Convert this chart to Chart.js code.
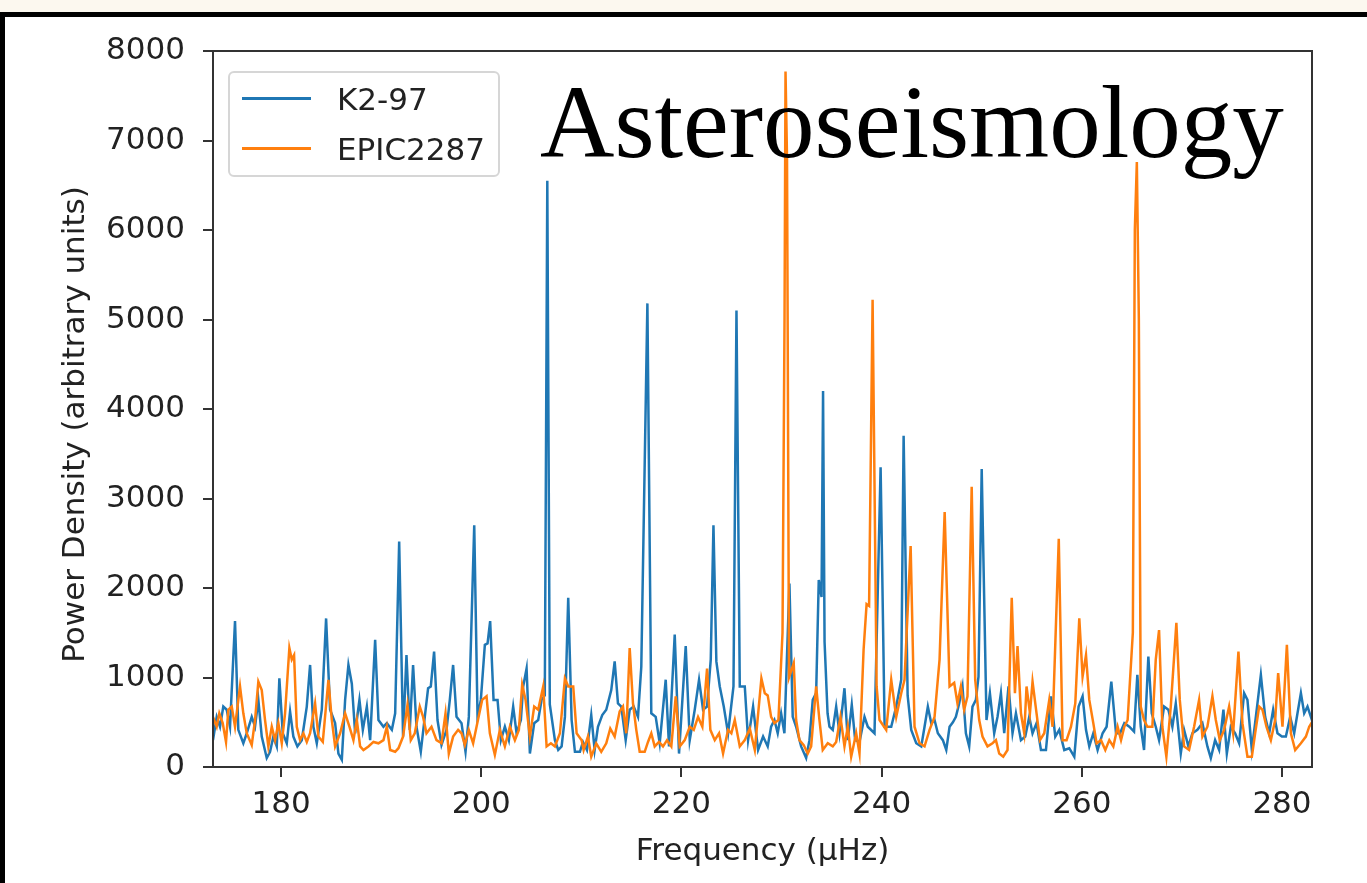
<!DOCTYPE html>
<html>
<head>
<meta charset="utf-8">
<script src="https://cdn.jsdelivr.net/npm/chart.js@4"></script>
<style>
  body { margin: 0; background: #fcf8ef; font-family: "DejaVu Sans", sans-serif; }
  #frame { position: absolute; left: 0; top: 12px; width: 1367px; height: 871px; background: #fff;
           border-top: 5px solid #000; border-left: 5px solid #000; box-sizing: border-box; }
  #myChart { position: absolute; left: 0; top: 0; }
  #legend { position: absolute; left: 228px; top: 71px; width: 272px; height: 106px; box-sizing: border-box;
            border: 2px solid #d6d6d6; border-radius: 6px; background: rgba(255,255,255,0.8); }
  .item { position: absolute; left: 0; height: 36px; font-size: 31px; color: #222; line-height: 36px; }
  .item span.line { position: absolute; left: 12px; top: 16px; width: 69px; height: 3px; }
  .item span.txt { position: absolute; left: 107px; top: 0; white-space: nowrap; }
  #stamp { position: absolute; left: 540px; top: 71px; font-family: "Liberation Serif", serif;
           font-size: 103px; line-height: 103px; color: #000; white-space: nowrap; }
</style>
</head>
<body>
<div id="frame"></div>
<canvas id="myChart" width="1367" height="883"></canvas>
<div id="legend"></div>
<div id="stamp">Asteroseismology</div>
<script>
//Spectra: [frequency (uHz), power density]
const k2Spectrum = [
  [173.2,300],[173.57,560],[173.9,450],[174.23,675],[174.57,640],[174.9,450],[175.4,1630],[175.73,415],
  [176.23,265],[176.57,377],[177.07,560],[177.4,450],[177.73,750],[178.07,340],[178.57,100],[178.9,170],
  [179.23,340],[179.57,230],[179.83,990],[180.17,377],[180.57,265],[180.9,620],[181.23,340],[181.63,230],
  [182.07,300],[182.57,675],[182.9,1140],[183.23,450],[183.57,265],[184.07,640],[184.5,1660],[184.9,640],
  [185.4,490],[185.73,150],[186.07,80],[186.4,750],[186.73,1140],[187.07,930],[187.4,377],[187.83,750],
  [188.17,415],[188.57,675],[188.9,300],[189.4,1420],[189.73,525],[190.23,450],[190.57,490],[191.07,415],
  [191.4,600],[191.8,2520],[192.19,340],[192.53,1250],[192.86,415],[193.19,1140],[193.53,450],[193.96,170],
  [194.36,560],[194.69,880],[194.96,900],[195.29,1290],[195.63,525],[196.03,245],[196.53,415],[196.86,750],
  [197.19,1140],[197.53,560],[198.03,490],[198.43,170],[198.76,560],[199.3,2700],[199.63,560],[199.96,750],
  [200.36,1365],[200.63,1380],[200.89,1630],[201.23,750],[201.63,750],[201.96,300],[202.36,450],[202.76,300],
  [203.19,675],[203.53,377],[203.96,525],[204.19,900],[204.53,1100],[204.86,150],[205.29,490],[205.69,525],
  [206.03,750],[206.35,800],[206.6,6550],[206.85,700],[207.36,300],[207.69,190],[208.03,230],[208.36,560],
  [208.69,1890],[209.03,525],[209.36,170],[209.86,170],[210.16,280],[210.56,190],[210.99,580],[211.33,190],
  [211.66,450],[212.09,580],[212.49,640],[212.99,860],[213.33,1180],[213.66,710],[213.99,675],[214.43,300],
  [214.83,640],[215.23,675],[215.66,560],[215.99,1120],[216.6,5180],[216.99,600],[217.43,560],[217.83,265],
  [218.43,975],[218.76,230],[219.33,1480],[219.76,150],[220.43,1350],[220.83,300],[221.33,640],[221.76,975],
  [222.16,640],[222.56,675],[222.93,1200],[223.2,2700],[223.49,1180],[223.83,900],[224.23,675],[224.66,377],
  [225.2,900],[225.5,5100],[225.83,900],[226.33,900],[226.66,300],[227.16,675],[227.66,190],[228.16,340],
  [228.62,230],[228.96,450],[229.29,525],[229.62,377],[229.96,600],[230.29,377],[230.79,2050],[231.12,560],
  [231.46,450],[231.96,230],[232.46,100],[232.79,300],[233.12,750],[233.46,825],[233.72,2090],[234.0,1900],
  [234.15,4200],[234.3,1400],[234.6,600],[234.79,450],[235.12,415],[235.46,675],[235.79,377],[236.29,880],
  [236.62,300],[237.02,695],[237.36,300],[237.79,280],[238.29,560],[238.62,450],[239.29,377],[239.9,3350],
  [240.3,450],[240.96,450],[241.46,675],[241.96,975],[242.2,3700],[242.6,800],[242.96,415],[243.46,265],
  [243.96,230],[244.29,450],[244.62,675],[244.96,490],[245.29,525],[245.62,377],[246.12,300],[246.46,190],
  [246.79,450],[247.12,500],[247.42,560],[247.75,710],[248.08,900],[248.42,377],[248.75,230],[249.08,675],
  [249.42,750],[249.68,1010],[250.0,3330],[250.48,525],[250.82,825],[251.25,377],[251.58,560],[251.92,825],
  [252.25,377],[252.68,900],[253.08,377],[253.42,600],[253.92,300],[254.35,340],[254.75,560],[255.08,377],
  [255.48,490],[255.92,190],[256.42,190],[256.92,790],[257.35,340],[257.75,415],[258.25,190],[258.75,210],
  [259.25,115],[259.68,675],[260.08,790],[260.42,415],[260.75,230],[261.15,377],[261.58,190],[262.08,377],
  [262.48,450],[262.95,955],[263.42,377],[263.82,377],[264.25,490],[264.75,450],[265.22,395],[265.55,1030],
  [265.89,450],[266.22,190],[266.65,1235],[266.99,600],[267.39,450],[267.72,300],[268.22,675],[268.65,640],
  [269.05,450],[269.39,710],[269.89,150],[270.22,415],[270.65,230],[271.05,377],[271.55,415],[272.05,490],
  [272.55,230],[272.89,100],[273.32,300],[273.72,190],[274.15,640],[274.49,150],[274.89,450],[275.32,377],
  [275.72,265],[276.22,825],[276.55,750],[276.99,190],[277.39,560],[277.89,1030],[278.32,560],[278.72,377],
  [279.12,640],[279.55,377],[279.99,340],[280.39,340],[280.82,560],[281.22,377],[281.55,600],[281.89,825],
  [282.22,600],[282.55,675],[282.89,560],[283.0,600]
];
const epicSpectrum = [
  [173.2,560],[173.57,450],[173.83,600],[174.17,490],[174.5,280],[174.73,640],[175.07,675],[175.4,450],
  [175.9,900],[176.23,600],[176.57,377],[177.07,245],[177.4,525],[177.73,955],[178.07,860],[178.4,525],
  [178.73,230],[179.07,450],[179.4,300],[179.73,490],[180.07,265],[180.4,600],[180.83,1330],[181.07,1200],
  [181.3,1250],[181.57,450],[181.9,300],[182.23,377],[182.57,280],[182.9,377],[183.4,710],[183.73,340],
  [184.17,280],[184.73,975],[185.07,525],[185.4,230],[185.9,377],[186.4,600],[186.83,450],[187.23,300],
  [187.57,525],[187.9,230],[188.23,190],[188.73,230],[189.23,280],[189.73,265],[190.23,300],[190.57,450],
  [190.9,190],[191.4,170],[191.73,210],[192.19,340],[192.63,695],[192.96,300],[193.36,377],[193.86,675],
  [194.19,560],[194.53,377],[195.03,450],[195.53,300],[196.03,265],[196.43,600],[196.76,150],[197.19,340],
  [197.69,415],[198.03,377],[198.36,245],[198.76,415],[199.19,265],[199.53,450],[200.09,750],[200.53,790],
  [200.86,377],[201.36,135],[201.86,415],[202.36,230],[202.86,450],[203.36,300],[203.76,415],[204.09,920],
  [204.43,750],[204.86,340],[205.29,675],[205.69,640],[206.19,900],[206.53,230],[206.96,265],[207.36,230],
  [207.86,377],[208.36,990],[208.69,900],[209.19,900],[209.53,377],[210.03,300],[210.23,190],[210.66,340],
  [210.99,115],[211.49,265],[211.99,170],[212.49,265],[212.89,430],[213.33,340],[213.83,620],[214.16,675],
  [214.49,377],[214.83,1330],[215.16,710],[215.49,415],[215.83,170],[216.33,170],[216.66,280],[216.99,377],
  [217.33,230],[217.76,280],[218.16,230],[218.56,300],[218.99,230],[219.43,790],[219.83,230],[220.33,300],
  [220.83,450],[221.23,415],[221.66,560],[222.09,450],[222.56,1100],[222.89,415],[223.33,300],[223.76,377],
  [224.16,150],[224.66,415],[224.99,377],[225.33,525],[225.83,230],[226.33,300],[226.83,430],[227.33,190],
  [227.99,990],[228.33,825],[228.62,800],[228.96,560],[229.29,490],[229.69,525],[230.1,1500],[230.3,5000],
  [230.4,7770],[230.55,6800],[230.75,1000],[231.22,1160],[231.46,525],[231.79,300],[232.22,245],[232.62,150],
  [232.96,230],[233.46,900],[233.79,525],[234.12,190],[234.62,265],[235.12,230],[235.46,280],[235.89,560],
  [236.29,230],[236.62,450],[236.96,115],[237.46,377],[237.79,150],[238.2,1310],[238.5,1820],[238.75,1800],
  [239.1,5220],[239.5,900],[239.79,525],[240.46,415],[240.96,975],[241.46,560],[241.96,825],[242.29,975],
  [242.9,2470],[243.29,450],[243.79,265],[244.29,230],[244.79,415],[245.29,560],[245.79,1200],[246.3,2850],
  [246.79,900],[247.25,940],[247.58,710],[247.92,900],[248.25,640],[248.58,790],[249.0,3130],[249.35,975],
  [249.75,525],[250.08,340],[250.58,230],[251.08,265],[251.42,300],[251.75,150],[252.15,115],[252.58,190],
  [253.0,1890],[253.32,825],[253.58,1350],[253.92,600],[254.25,377],[254.48,900],[254.82,600],[255.08,955],
  [255.48,600],[255.82,300],[256.25,377],[256.75,750],[257.08,450],[257.7,2550],[258.08,300],[258.48,300],
  [258.92,450],[259.35,710],[259.75,1660],[260.08,1010],[260.42,1250],[260.75,750],[261.15,490],[261.48,265],
  [261.92,300],[262.35,190],[262.75,300],[263.15,230],[263.58,450],[263.92,300],[264.25,450],[264.58,525],
  [265.1,1500],[265.3,6000],[265.5,6760],[265.7,5000],[265.89,675],[266.22,525],[266.55,450],[267.05,450],
  [267.39,1200],[267.72,1530],[268.05,450],[268.45,115],[268.89,675],[269.45,1610],[269.79,750],[270.22,230],
  [270.72,190],[271.22,450],[271.72,750],[272.05,340],[272.55,450],[273.05,790],[273.39,525],[273.79,300],
  [274.22,415],[274.72,675],[275.12,377],[275.65,1290],[276.05,490],[276.55,115],[276.99,115],[277.32,377],
  [277.72,675],[278.05,640],[278.45,450],[278.89,300],[279.32,525],[279.62,1050],[280.05,450],[280.49,1365],
  [280.89,377],[281.32,190],[281.89,265],[282.39,340],[282.72,450],[283.0,500]
];
const seriesNames = ["K2-97", "EPIC2287"];
const seriesColors = ["#1f77b4", "#ff7f0e"];
const xTicks = [180, 200, 220, 240, 260, 280];
const yTicks = [0, 1000, 2000, 3000, 4000, 5000, 6000, 7000, 8000];

const ctx = document.getElementById("myChart");
const tickFont = { family: "DejaVu Sans", size: 31 };

//Draw the box around the plot like matplotlib spines
const boxPlugin = {
  id: "box",
  afterDraw(chart) {
    const a = chart.chartArea;
    const c = chart.ctx;
    c.save();
    c.strokeStyle = "#333";
    c.lineWidth = 2;
    c.strokeRect(a.left, a.top, a.right - a.left, a.bottom - a.top);
    c.restore();
  }
};

const toXY = arr => arr.map(p => ({ x: p[0], y: p[1] }));

const myChart = new Chart(ctx, {
  type: "line",
  data: {
    datasets: [
      { label: seriesNames[0], data: toXY(k2Spectrum), borderColor: seriesColors[0], borderWidth: 2.5, order: 1 },
      { label: seriesNames[1], data: toXY(epicSpectrum), borderColor: seriesColors[1], borderWidth: 2.5, order: 0 }
    ]
  },
  options: {
    responsive: false,
    animation: false,
    devicePixelRatio: 1,
    layout: { padding: { left: 0, top: 51, right: 55, bottom: 0 } },
    elements: { point: { radius: 0 }, line: { tension: 0 } },
    plugins: { legend: { display: false }, tooltip: { enabled: false } },
    scales: {
      x: {
        type: "linear",
        min: 173.2,
        max: 283.0,
        afterBuildTicks: s => { s.ticks = xTicks.map(v => ({ value: v })); },
        afterFit: s => { s.height = 116; },
        border: { display: false },
        grid: { drawOnChartArea: false, drawTicks: true, tickLength: 10, color: "#333", lineWidth: 2 },
        ticks: { font: tickFont, color: "#222", padding: 9, maxRotation: 0, callback: v => String(v) },
        title: { display: true, text: "Frequency (μHz)", font: tickFont, color: "#222", padding: { top: 0, bottom: 12 } }
      },
      y: {
        min: 0,
        max: 8000,
        afterBuildTicks: s => { s.ticks = yTicks.map(v => ({ value: v })); },
        afterFit: s => { s.width = 213; },
        border: { display: false },
        grid: { drawOnChartArea: false, drawTicks: true, tickLength: 10, color: "#333", lineWidth: 2 },
        ticks: { font: tickFont, color: "#222", padding: 18, callback: v => String(v) },
        //trailing en spaces nudge the rotated title down to where the original sits
        title: { display: true, text: "Power Density (arbitrary units)\u2002\u2002", font: tickFont, color: "#222", padding: { top: 57, bottom: 0 } }
      }
    }
  },
  plugins: [boxPlugin]
});

//Legend built from the same names and colours
let output = ``;
for (let i = 0; i < seriesNames.length; i++) {
  output += `<div class="item" style="top:${8 + i * 50}px"><span class="line" style="background:${seriesColors[i]}"></span><span class="txt">${seriesNames[i]}</span></div>`;
}
document.getElementById("legend").innerHTML = output;
</script>
</body>
</html>
